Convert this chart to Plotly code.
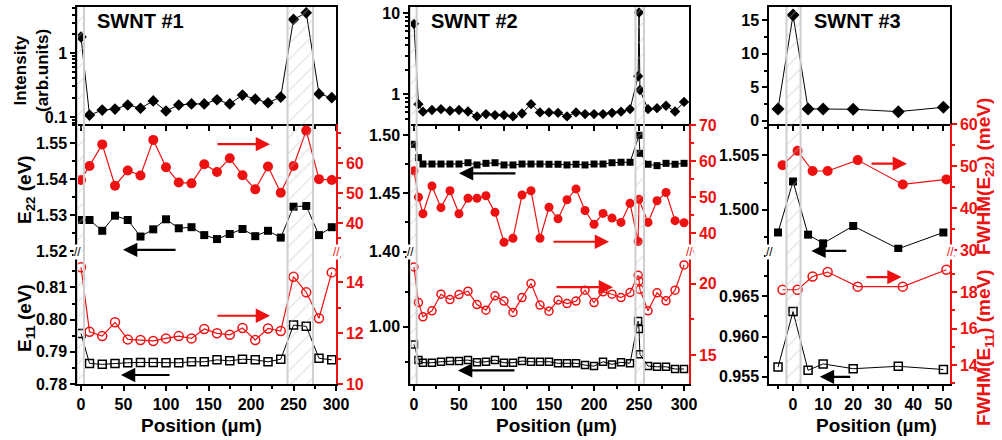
import plotly.graph_objects as go

# ---------------- data ----------------
# SWNT #1
pos1 = [0, 10, 25, 40, 55, 70, 85, 100, 115, 130, 145, 160, 175, 190, 205, 220, 235, 250, 265, 280, 295]
int1 = [1.78, 0.107, 0.128, 0.133, 0.154, 0.137, 0.178, 0.124, 0.154, 0.16, 0.16, 0.186, 0.16, 0.22, 0.19,
        0.167, 0.205, 3.36, 4.26, 0.229, 0.2]
e22_1 = [1.5287, 1.5287, 1.5257, 1.5299, 1.5287, 1.5241, 1.5261, 1.5289, 1.5264, 1.5267, 1.5245, 1.5234,
         1.5248, 1.5262, 1.5242, 1.5257, 1.5238, 1.5324, 1.5326, 1.5245, 1.5267]
w22_1 = [54.4, 59.1, 66.3, 52.5, 57.6, 55.9, 67.8, 58.7, 53.6, 53.3, 59.7, 57.1, 61.7, 56.0, 51.3, 58.9,
         50.2, 59.1, 70.9, 54.7, 54.4]
e11_1 = [0.7957, 0.7864, 0.7861, 0.7864, 0.7866, 0.7867, 0.7867, 0.7866, 0.7866, 0.7869, 0.7869, 0.7875,
         0.7872, 0.7877, 0.7875, 0.7869, 0.7877, 0.7983, 0.7979, 0.7880, 0.7875]
w11_1 = [14.58, 12.05, 11.88, 12.42, 11.75, 11.73, 11.69, 11.79, 11.88, 11.79, 12.16, 11.99, 11.93, 12.2,
         11.73, 12.18, 12.08, 14.21, 13.6, 12.58, 14.38]

# SWNT #2
pos2 = [0, 5, 10, 20, 30, 40, 50, 60, 70, 80, 90, 100, 110, 120, 130, 140, 150, 160, 170, 180, 190, 200,
        210, 220, 230, 240, 249, 250, 251, 260, 270, 280, 290, 300]
int2 = [7.4, 0.755, 0.61, 0.64, 0.655, 0.625, 0.64, 0.614, 0.533, 0.569, 0.553, 0.553, 0.533, 0.58, 0.755,
        0.597, 0.597, 0.59, 0.533, 0.597, 0.569, 0.569, 0.569, 0.59, 0.61, 0.655, 1.67, 10.2, 1.13, 0.655,
        0.674, 0.72, 0.614, 0.805]
e22_2 = [1.492, 1.4806, 1.4751, 1.4751, 1.4751, 1.4751, 1.4751, 1.4762, 1.4743, 1.4757, 1.4762, 1.4743,
         1.4743, 1.4751, 1.4751, 1.4751, 1.4749, 1.4749, 1.4743, 1.4749, 1.4743, 1.4751, 1.4751, 1.4762,
         1.4766, 1.4766, None, 1.4997, 1.4843, 1.4749, 1.4737, 1.4757, 1.4749, 1.4757]
w22_2 = [57.3, 50.0, 45.4, 53.1, 47.1, 51.8, 45.4, 49.7, 49.7, 50.4, 45.8, 37.5, 38.6, 50.6, 51.8, 38.6,
         47.2, 44.0, 49.3, 52.3, 46.3, 42.5, 45.5, 44.2, 43.0, 48.3, 37.7, 49.4, None, 43.0, 49.0, 51.3,
         43.5, 42.9]
e11_2 = [0.9874, 0.9762, 0.9743, 0.9743, 0.9750, 0.9755, 0.9755, 0.9762, 0.9746, 0.9750, 0.9762, 0.9743,
         0.9743, 0.9755, 0.9750, 0.9750, 0.9750, 0.9739, 0.9739, 0.9739, 0.9726, 0.9719, 0.9750, 0.9731,
         0.9746, 0.9739, 1.0041, 0.9984, 0.9803, 0.9719, 0.9714, 0.9714, 0.9698, 0.9698]
w11_2 = [21.16, 18.67, 17.67, 18.09, 19.25, 18.88, 19.23, 19.46, 18.53, 18.14, 19.14, 18.77, 17.98, 19.02,
         20.0, 18.49, 18.07, 18.84, 18.6, 18.77, 19.53, 18.67, 19.42, 19.25, 19.02, 19.37, 20.58, 20.18,
         19.58, 18.09, 19.35, 18.79, 19.53, 21.3]

# SWNT #3
pos3 = [-5, 0, 5, 10, 20, 35, 50]
pos3w = [-3.5, 1.5, 6.5, 11.5, 21.5, 36.5, 51]
int3 = [1.76, 15.8, 1.76, 1.76, 1.7, 1.35, 2.0]
e22_3 = [1.4979, 1.5026, 1.4977, 1.4969, 1.4985, 1.4964, 1.4979]
w22_3 = [50.2, 53.6, 48.8, 48.8, 51.4, 45.6, 46.8]
e11_3 = [0.9562, 0.9631, 0.9558, 0.9566, 0.9560, 0.9563, 0.9559]
w11_3 = [18.13, 18.13, 18.86, 19.1, 18.3, 18.3, 19.23]

titles = ["SWNT #1", "SWNT #2", "SWNT #3"]
hatch_bands = [[(-4.7, 3.5), (243, 273)], [(-4.4, 3.0), (246, 255.5)], [(-2.2, 2.5)]]

# ---------------- layout helpers ----------------
W, H = 1002, 440
RED = "#ee1111"
FONT = "Arial, 'Liberation Sans', sans-serif"


def fx(p):
    return p / W


def fy(p):
    return 1 - p / H


def bold(vals, fmt):
    return [("<b>" + fmt.format(v) + "</b>") for v in vals]


ROWS = {"top": (7, 124), "mid": (124, 252), "bot": (252, 384)}
PANEL_X = [(77, 336), (410, 689), (769, 950)]
MSIZE = [dict(d=9, s=8, c=10, so=8, co=9), dict(d=8, s=7, c=9, so=7, co=8), dict(d=10, s=8, c=10, so=8, co=9)]

cfg = [
    dict(xr=[-4.7, 300], xt=[0, 50, 100, 150, 200, 250, 300], xminor=25,
         top=dict(type="log", range=[-1.11, 0.72], tickvals=[0.1, 1], ticktext=["0.1", "1"],
                  minor=[0.08, 0.09, 0.2, 0.3, 0.4, 0.5, 0.6, 0.7, 0.8, 0.9, 2, 3, 4, 5]),
         midL=dict(range=[1.5198, 1.5554], tickvals=[1.52, 1.53, 1.54, 1.55], fmt="{:.2f}", minor=0.005),
         midR=dict(range=[30.4, 73.1], tickvals=[40, 50, 60], fmt="{:.0f}", minor=5),
         botL=dict(range=[0.78, 0.821], tickvals=[0.78, 0.79, 0.80, 0.81], fmt="{:.2f}", minor=0.005),
         botR=dict(range=[10, 15.18], tickvals=[10, 12, 14], fmt="{:.0f}", minor=1)),
    dict(xr=[-4.4, 305.5], xt=[0, 50, 100, 150, 200, 250, 300], xminor=25,
         top=dict(type="log", range=[-0.367, 1.077], tickvals=[1, 10], ticktext=["1", "10"],
                  minor=[0.5, 0.6, 0.7, 0.8, 0.9, 2, 3, 4, 5, 6, 7, 8, 9]),
         midL=dict(range=[1.3997, 1.5094], tickvals=[1.40, 1.45, 1.50], fmt="{:.2f}", minor=0.025),
         midR=dict(range=[34.8, 70.3], tickvals=[40, 50, 60, 70], fmt="{:.0f}", minor=5),
         botL=dict(range=[0.9591, 1.0534], tickvals=[1.00], fmt="{:.2f}", minor=0.025),
         botR=dict(range=[12.98, 22.2], tickvals=[15, 20], fmt="{:.0f}", minor=2.5)),
    dict(xr=[-8, 52.2], xt=[0, 10, 20, 30, 40, 50], xminor=5,
         top=dict(type="linear", range=[-0.5, 17], tickvals=[0, 5, 10, 15], fmt="{:.0f}", minor=2.5),
         midL=dict(range=[1.4961, 1.5079], tickvals=[1.500, 1.505], fmt="{:.3f}", minor=0.0025),
         midR=dict(range=[29.5, 60], tickvals=[30, 40, 50, 60], fmt="{:.0f}", minor=5),
         botL=dict(range=[0.9541, 0.9705], tickvals=[0.955, 0.960, 0.965], fmt="{:.3f}", minor=0.0025),
         botR=dict(range=[12.96, 20.2], tickvals=[14, 16, 18], fmt="{:.0f}", minor=1)),
]


def xname(n):
    return "xaxis" if n == 1 else f"xaxis{n}"


def yname(n):
    return "yaxis" if n == 1 else f"yaxis{n}"


def xref(n):
    return "x" if n == 1 else f"x{n}"


def yref(n):
    return "y" if n == 1 else f"y{n}"


TICK_SIZE = 16
tickfont = dict(family=FONT, size=TICK_SIZE, color="black")
layout = dict(width=W, height=H, margin=dict(l=0, r=0, t=0, b=0, pad=0, autoexpand=False),
              paper_bgcolor="white", plot_bgcolor="rgba(0,0,0,0)", showlegend=False,
              font=dict(family=FONT, size=16, color="black"))
shapes, annotations = [], []
fig = go.Figure()

series = [
    (pos1, int1, e22_1, w22_1, e11_1, w11_1, pos1),
    (pos2, int2, e22_2, w22_2, e11_2, w11_2, pos2),
    (pos3, int3, e22_3, w22_3, e11_3, w11_3, pos3w),
]


def minor_dict(m, color):
    if isinstance(m, list):
        return dict(tickmode="array", tickvals=m, ticks="outside", ticklen=3, tickcolor=color)
    return dict(dtick=m, ticks="outside", ticklen=3, tickcolor=color)


def ann(text, xp, yp, size=19, color="black", angle=0):
    return dict(text=text, xref="paper", yref="paper", x=fx(xp), y=fy(yp), xanchor="center",
                yanchor="middle", showarrow=False, textangle=angle,
                font=dict(family=FONT, size=size, color=color))


for p in range(3):
    c = cfg[p]
    x0, x1 = PANEL_X[p]
    xd = [fx(x0), fx(x1)]
    xt_id, xm_id, xb_id = 3 * p + 1, 3 * p + 2, 3 * p + 3
    yt, ymL, ymR, ybL, ybR, yh = [6 * p + k for k in range(1, 7)]

    def ydom(r):
        a, b = ROWS[r]
        return [fy(b), fy(a)]

    common_x = dict(domain=xd, range=c["xr"], tickmode="array", tickvals=c["xt"], automargin=False,
                    ticktext=bold(c["xt"], "{:d}"), linecolor="black", linewidth=1.5,
                    ticks="outside", ticklen=5, tickwidth=1.5, tickcolor="black", showgrid=False,
                    zeroline=False, tickfont=tickfont, minor=minor_dict(c["xminor"], "black"))
    layout[xname(xt_id)] = dict(common_x, anchor=yref(yt), showline=True, mirror=True, showticklabels=False)
    layout[xname(xm_id)] = dict(domain=xd, range=c["xr"], anchor=yref(ymL), visible=False, automargin=False)
    layout[xname(xb_id)] = dict(common_x, anchor=yref(ybL), showline=True, showticklabels=True)

    def yax(spec, row, anchor, color="black", side="left", overlaying=None, mirror=False):
        if "ticktext" in spec:
            tt = ["<b>" + t + "</b>" for t in spec["ticktext"]]
        else:
            tt = bold(spec["tickvals"], spec["fmt"])
        d = dict(domain=ydom(row), range=spec["range"], type=spec.get("type", "linear"), anchor=xref(anchor),
                 side=side, showline=True, linecolor=color, linewidth=1.5, mirror=mirror, automargin=False,
                 ticks="outside", ticklen=5, tickwidth=1.5, tickcolor=color, showgrid=False, zeroline=False,
                 tickmode="array", tickvals=spec["tickvals"], ticktext=tt,
                 tickfont=dict(tickfont, color=color), minor=minor_dict(spec["minor"], color))
        if overlaying:
            d["overlaying"] = overlaying
        return d

    layout[yname(yt)] = yax(c["top"], "top", xt_id, mirror=True)
    layout[yname(ymL)] = yax(c["midL"], "mid", xm_id)
    layout[yname(ymR)] = yax(c["midR"], "mid", xm_id, color=RED, side="right", overlaying=yref(ymL))
    layout[yname(ybL)] = yax(c["botL"], "bot", xb_id)
    layout[yname(ybR)] = yax(c["botR"], "bot", xb_id, color=RED, side="right", overlaying=yref(ybL))
    layout[yname(yh)] = dict(domain=[fy(384), fy(7)], range=[0, 1], anchor=xref(xb_id), visible=False,
                             automargin=False)

    # hatched bands
    for (a, b) in hatch_bands[p]:
        fig.add_trace(go.Scatter(x=[a, b, b, a, a], y=[0, 0, 1, 1, 0], xaxis=xref(xb_id), yaxis=yref(yh),
                                 mode="lines", line=dict(width=0), fill="toself", fillcolor="rgba(255,255,255,0)",
                                 fillpattern=dict(shape="/", fgcolor="#bdbdbd", bgcolor="rgba(255,255,255,0)",
                                                  size=11, solidity=0.1),
                                 hoverinfo="skip"))
        for v in (a, b):
            shapes.append(dict(type="line", xref=xref(xb_id), yref="paper", x0=v, x1=v, y0=fy(384), y1=fy(7),
                               line=dict(color="#cfcfcf", width=2), layer="above"))

    ms = MSIZE[p]
    xs, inten, e22, w22, e11, w11, xsw = series[p]
    fig.add_trace(go.Scatter(x=xs, y=inten, xaxis=xref(xt_id), yaxis=yref(yt), mode="lines+markers",
                             line=dict(color="black", width=1),
                             marker=dict(symbol="diamond", size=ms["d"], color="black")))
    fig.add_trace(go.Scatter(x=xs, y=e22, xaxis=xref(xm_id), yaxis=yref(ymL), mode="lines+markers",
                             connectgaps=True, line=dict(color="black", width=1),
                             marker=dict(symbol="square", size=ms["s"], color="black")))
    fig.add_trace(go.Scatter(x=xsw, y=w22, xaxis=xref(xm_id), yaxis=yref(ymR), mode="lines+markers",
                             connectgaps=True, line=dict(color=RED, width=1.2),
                             marker=dict(symbol="circle", size=ms["c"], color=RED)))
    fig.add_trace(go.Scatter(x=xs, y=e11, xaxis=xref(xb_id), yaxis=yref(ybL), mode="lines+markers",
                             line=dict(color="black", width=1),
                             marker=dict(symbol="square-open", size=ms["so"], color="black", line=dict(width=1.5))))
    fig.add_trace(go.Scatter(x=xsw, y=w11, xaxis=xref(xb_id), yaxis=yref(ybR), mode="lines+markers",
                             line=dict(color=RED, width=1.2),
                             marker=dict(symbol="circle-open", size=ms["co"], color=RED, line=dict(width=1.5))))

    annotations.append(ann("<b>" + titles[p] + "</b>", [140, 474, 857][p], 21, size=20))
    annotations.append(ann("<b>Position (\u00b5m)</b>", [201, 556, 876][p], 425, size=19))
    for xpx, col in ((x0, "black"), (x1, RED)):
        a = ann("//", xpx, 252, size=12, color=col)
        a.update(bgcolor="white", borderpad=0)
        annotations.append(a)

# arrows (tail -> head), in data coordinates of the left axes
arrows = [
    # panel, row, color, tail x, head x, y
    (0, "mid", RED, 158.8, 222.4, 1.5498), (0, "mid", "black", 113, 49.4, 1.5204),
    (0, "bot", RED, 158.8, 222.4, 0.8012), (0, "bot", "black", 105.9, 47, 0.7828),
    (1, "mid", "black", 114.4, 50, 1.4671), (1, "mid", RED, 153.3, 216.7, 1.4085),
    (1, "bot", RED, 156.7, 221.1, 1.0283), (1, "bot", "black", 113.3, 48.9, 0.9688),
    (2, "mid", RED, 25.6, 37.9, 1.50424), (2, "mid", "black", 18.2, 6.1, 1.4962),
    (2, "bot", RED, 23.9, 36.1, 0.96739), (2, "bot", "black", 19.5, 8.9, 0.95499),
]
for p, row, col, tx, hx, yv in arrows:
    xa = xref(3 * p + (2 if row == "mid" else 3))
    ya = yref(6 * p + (2 if row == "mid" else 4))
    annotations.append(dict(x=hx, y=yv, ax=tx, ay=yv, xref=xa, yref=ya, axref=xa, ayref=ya, text="",
                            showarrow=True, arrowhead=2, arrowsize=1.3, arrowwidth=2.2, arrowcolor=col))

annotations += [
    ann("<b>Intensity<br>(arb.units)</b>", 32, 70, size=17, angle=-90),
    ann("<b>E<sub>22</sub> (eV)</b>", 26, 190, angle=-90),
    ann("<b>E<sub>11</sub> (eV)</b>", 26, 318, angle=-90),
    ann("<b>FWHM(E<sub>22</sub>) (meV)</b>", 985, 177, color=RED, angle=-90),
    ann("<b>FWHM(E<sub>11</sub>) (meV)</b>", 985, 348, color=RED, angle=-90),
]

layout["shapes"] = shapes
layout["annotations"] = annotations
fig.update_layout(layout)
fig.write_html("out.html")
